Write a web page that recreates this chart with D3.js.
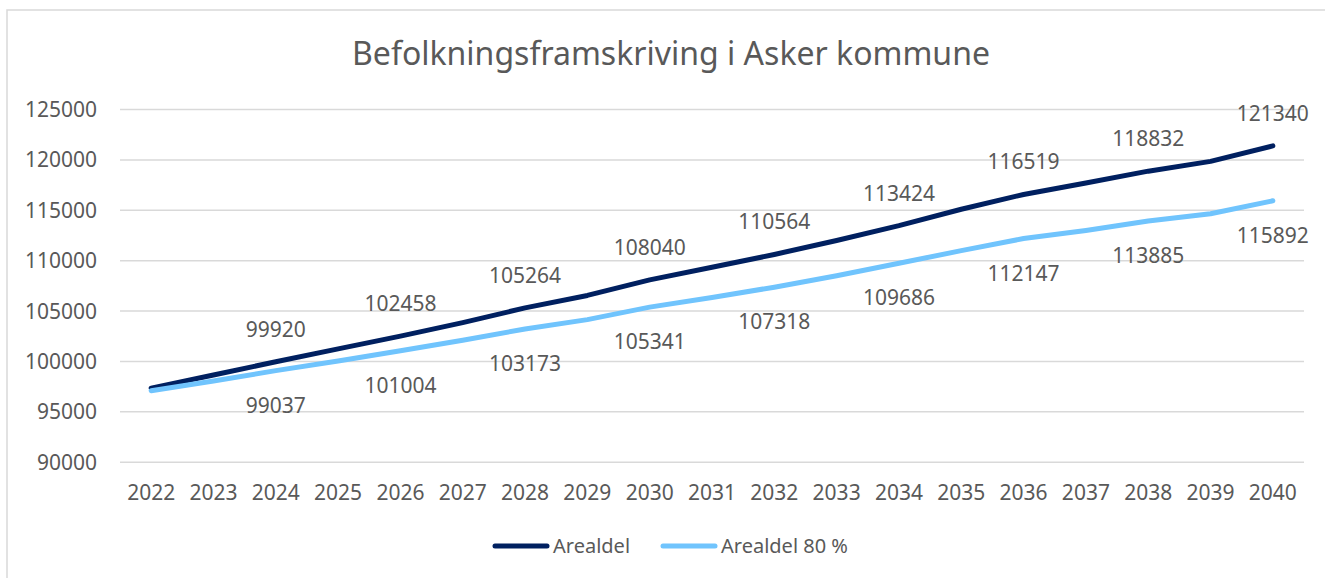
<!DOCTYPE html>
<html>
<head>
<meta charset="utf-8">
<script src="https://cdn.jsdelivr.net/npm/d3@7"></script>
<style>
  body { margin: 0; background: #fff; }
  text { font-family: "Noto Sans", sans-serif; fill: #595959; }
</style>
</head>
<body>
<div id="chart"></div>
<script>
// data
const years = [2022, 2023, 2024, 2025, 2026, 2027, 2028, 2029, 2030, 2031,
               2032, 2033, 2034, 2035, 2036, 2037, 2038, 2039, 2040]

const arealdel = [97300, 98600, 99920, 101200, 102458, 103800, 105264, 106500, 108040, 109300,
                  110564, 111950, 113424, 115050, 116519, 117650, 118832, 119800, 121340]

const arealdel80 = [97050, 98000, 99037, 100000, 101004, 102050, 103173, 104100, 105341, 106300,
                    107318, 108450, 109686, 110950, 112147, 112950, 113885, 114600, 115892]

const yTicks = [90000, 95000, 100000, 105000, 110000, 115000, 120000, 125000]

const seriesNames = ['Arealdel', 'Arealdel 80 %']
const seriesColors = ['#002060', '#70c4fd']

const width = 1325
const height = 578

const svg = d3.select('#chart')
  .append('svg')
  .attr('width', width)
  .attr('height', height)

// chart border (runs off to right/bottom like the screenshot)
svg.append('rect')
  .attr('x', 7).attr('y', 10)
  .attr('width', width + 10).attr('height', height + 10)
  .attr('fill', 'none')
  .attr('stroke', '#d9d9d9')
  .attr('stroke-width', 1.5)

svg.append('text')
  .attr('x', 671)
  .attr('y', 65)
  .attr('text-anchor', 'middle')
  .style('font-size', '32px')
  .text('Befolkningsframskriving i Asker kommune')

// scales
const xScale = d3.scaleBand()
  .domain(years)
  .range([120, 1304])

const yScale = d3.scaleLinear()
  .domain([90000, 125000])
  .range([461.7, 109])

const xc = d => xScale(d) + xScale.bandwidth() / 2

// gridlines
const yAxis = d3.axisLeft(yScale)
  .tickValues(yTicks)
  .tickSize(-(1304 - 120))
  .tickPadding(23)
  .tickFormat(d3.format('d'))

const gy = svg.append('g')
  .attr('transform', 'translate(120,0)')
  .call(yAxis)
gy.select('.domain').remove()
gy.selectAll('.tick line').attr('stroke', '#d9d9d9').attr('stroke-width', 1.5)
gy.selectAll('.tick text')
  .style('font-size', '21px')
  .attr('fill', '#595959')
  .attr('dy', '0.36em')

const xAxis = d3.axisBottom(xScale).tickSize(0).tickPadding(0)
const gx = svg.append('g')
  .attr('transform', 'translate(0,' + 461.7 + ')')
  .call(xAxis)
gx.select('.domain').remove()
gx.selectAll('.tick text')
  .style('font-size', '21px')
  .attr('fill', '#595959')
  .attr('dy', 0)
  .attr('y', 38)

// lines
const line = d3.line()
  .x((d, i) => xc(years[i]))
  .y(d => yScale(d))

const allSeries = [arealdel, arealdel80]

svg.selectAll('path.series')
  .data(allSeries)
  .enter()
  .append('path')
  .attr('class', 'series')
  .attr('d', d => line(d))
  .attr('fill', 'none')
  .attr('stroke', (d, i) => seriesColors[i])
  .attr('stroke-width', 5)
  .attr('stroke-linecap', 'round')
  .attr('stroke-linejoin', 'round')

// data labels every second year
const labelIdx = years.map((y, i) => i).filter(i => i % 2 == 0 && i > 0)

svg.selectAll('text.lab1')
  .data(labelIdx)
  .enter()
  .append('text')
  .attr('class', 'lab1')
  .attr('x', i => xc(years[i]))
  .attr('y', i => yScale(arealdel[i]) - 25)
  .attr('text-anchor', 'middle')
  .style('font-size', '21px')
  .text(i => arealdel[i])

svg.selectAll('text.lab2')
  .data(labelIdx)
  .enter()
  .append('text')
  .attr('class', 'lab2')
  .attr('x', i => xc(years[i]))
  .attr('y', i => yScale(arealdel80[i]) + 42)
  .attr('text-anchor', 'middle')
  .style('font-size', '21px')
  .text(i => arealdel80[i])

// legend
const legendX = [493, 661]
const lg = svg.selectAll('g.legend')
  .data(seriesNames)
  .enter()
  .append('g')
  .attr('class', 'legend')
  .attr('transform', (d, i) => 'translate(' + legendX[i] + ',546)')

lg.append('line')
  .attr('x1', 2).attr('x2', 54)
  .attr('y1', 0).attr('y2', 0)
  .attr('stroke', (d, i) => seriesColors[i])
  .attr('stroke-width', 5)
  .attr('stroke-linecap', 'round')

lg.append('text')
  .attr('x', 60)
  .attr('y', 7)
  .style('font-size', '20px')
  .text(d => d)
</script>
</body>
</html>
